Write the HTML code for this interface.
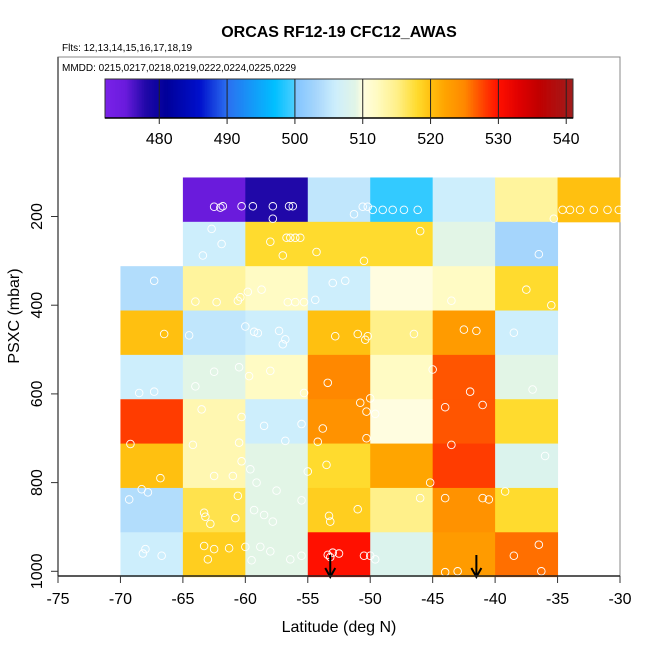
<!DOCTYPE html>
<html><head><meta charset="utf-8"><style>
body{margin:0;background:#fff;}
svg{display:block;font-family:"Liberation Sans",sans-serif;}
</style></head><body>
<svg id="c" width="650" height="650" viewBox="0 0 650 650">
<text x="339" y="37" text-anchor="middle" font-size="16" font-weight="bold">ORCAS RF12-19 CFC12_AWAS</text>
<text x="62" y="51" font-size="10">Flts: 12,13,14,15,16,17,18,19</text>
<rect x="58" y="57" width="562" height="519" fill="none" stroke="#888" stroke-width="1"/>
<text x="62" y="71" font-size="10">MMDD: 0215,0217,0218,0219,0222,0224,0225,0229</text>
<g id="cells"></g><g id="pts"></g><g id="cbar"></g><g id="axes"></g>
<text x="339" y="632" text-anchor="middle" font-size="16">Latitude (deg N)</text>
<text transform="translate(19,316) rotate(-90)" text-anchor="middle" font-size="16">PSXC (mbar)</text>
</svg>
<script>
const latEdges=[-70,-65,-60,-55,-50,-45,-40,-35,-30];
const presTops=[112,212,312,412,512,612,712,812,912];
const binDepth=100;
const cellValues=[
[null,475,478,505,499,506,514,520],
[null,506,518,518,518,509,503,null],
[504,514,512,506,510,512,518,null],
[520,505,506,520,515,523,506,null],
[506,509,512,525,512,527,509,null],
[528,513,506,524,510,527,518,null],
[520,513,509,518,522,528,508,null],
[504,517,509,519,515,524,518,null],
[506,519,509,530,508,523,526,null]];
const ptLat=[-62.5,-62,-61.8,-60.3,-59.4,-57.8,-56.5,-56.2,-57.8,-51.3,-50.6,-50.2,-49.8,-49,-48.2,-47.3,-46.2,-34.6,-34,-33.2,-32.1,-31,-30.1,-35.3,
-62.7,-61.9,-63.4,-58,-56.7,-56.4,-56,-55.6,-57,-50.5,-46,-36.5,-54.3,
-67.3,-64,-62.3,-60.4,-60.6,-59.8,-58.7,-56.6,-56,-55.3,-54.4,-53,-52,-35.5,-43.5,-37.5,
-66.5,-64.5,-60,-59.3,-59,-57.3,-56.8,-57,-52.8,-51,-50.2,-50.4,-46.5,-42.5,-41.5,-38.5,
-68.5,-67.3,-64,-62.5,-60.5,-59.7,-55.3,-58,-53.4,-50,-45,-42,-37,
-63.5,-60.3,-58.5,-55.5,-53.8,-50.8,-50.3,-49.6,-44,-41,
-69.2,-64.2,-60.5,-56.8,-54.2,-50.3,-43.5,-36,
-68.3,-67.8,-66.8,-62.5,-61,-60.3,-60.6,-59.6,-59.1,-57.5,-55,-53.5,-45.2,-41,-39.2,
-69.3,-63.3,-63.2,-62.8,-60.8,-59.3,-58.5,-57.8,-55.5,-53.2,-53.3,-51,-46,-44,-40.5,
-68,-68.2,-66.7,-63.3,-63,-62.5,-61.3,-60,-59.5,-58.8,-58,-56.4,-55.5,-53.4,-53.2,-53,-52.5,-50.5,-50,-49.6,-44,-43,-36.3,-36.5,-38.5];
const ptPres=[178,180,177,177,177,177,177,177,205,195,178,178,185,185,185,185,185,185,185,185,185,185,185,205,
228,262,288,257,248,248,248,248,288,300,233,285,280,
345,392,393,382,390,370,365,393,393,393,388,350,345,400,390,365,
465,468,448,460,463,458,477,488,470,465,470,478,465,455,458,462,
598,595,583,550,540,560,598,548,575,610,545,595,590,
635,652,672,668,678,620,640,645,630,625,
713,715,710,706,708,700,715,740,
815,822,790,785,785,752,830,770,800,818,775,760,800,835,820,
838,868,877,893,880,862,873,888,840,888,875,860,835,835,838,
950,960,965,943,973,950,948,945,975,945,955,973,965,963,968,958,960,965,965,973,1002,1000,1000,940,965];
const cbTicks=[480,490,500,510,520,530,540];
const xTicks=[-75,-70,-65,-60,-55,-50,-45,-40,-35,-30];
const yTicks=[200,400,600,800,1000];
const cbMin=472,cbMax=541;
const stops=[[472,'#7a22e8'],[475,'#6a1bdc'],[478,'#2008a8'],[481,'#000099'],[486,'#0010cc'],[490,'#2b6ff0'],[497,'#00bfff'],[500,'#4ccfff'],[500.01,'#80c4ff'],[503,'#a5d5fc'],[506,'#cdeefc'],[509,'#e2f5e6'],[510,'#fffde0'],[512,'#fffbc4'],[515,'#fff08a'],[518,'#ffdb2e'],[520,'#ffc010'],[522,'#ffa500'],[525,'#ff8800'],[528,'#ff3c00'],[530,'#ff1000'],[533,'#e00000'],[536,'#c00000'],[541,'#a01c1c']];
function hex(c){return [1,3,5].map(i=>parseInt(c.substr(i,2),16));}
function cmap(v){
  if(v<=stops[0][0])return stops[0][1];
  for(let i=1;i<stops.length;i++){if(v<=stops[i][0]){const a=stops[i-1],b=stops[i];const t=(v-a[0])/(b[0]-a[0]);const A=hex(a[1]),B=hex(b[1]);return 'rgb('+A.map((x,k)=>Math.round(x+(B[k]-x)*t)).join(',')+')';}}
  return stops[stops.length-1][1];}
const X=lat=>58+(lat+75)*562/45;
const Y=p=>216.5+(p-200)*0.4435;
const CB=v=>105+(v-cbMin)*(573-105)/(cbMax-cbMin);
const NS='http://www.w3.org/2000/svg';
function mk(t,a,parent){const e=document.createElementNS(NS,t);for(const k in a)e.setAttribute(k,a[k]);parent.appendChild(e);return e;}
const gC=document.getElementById('cells');
cellValues.forEach((row,r)=>row.forEach((v,c)=>{if(v==null)return;
  const e=mk('rect',{x:X(latEdges[c]),y:Y(presTops[r]),width:X(latEdges[c+1])-X(latEdges[c])+0.5,height:Y(presTops[r]+binDepth)-Y(presTops[r])+0.5,fill:cmap(v)},gC);
  
  }));
const gP=document.getElementById('pts');
ptLat.forEach((la,i)=>{const e=mk('circle',{cx:X(la),cy:Y(ptPres[i]),r:3.8,fill:'none',stroke:'#fff','stroke-width':0.9},gP);
  
  });
const arrowsLat=[-53.2,-41.5];
arrowsLat.forEach(la=>{const x=X(la);const g=mk('g',{},gP);
  
  
  mk('line',{x1:x,y1:555,x2:x,y2:576,stroke:'#000','stroke-width':2},g);
  mk('path',{d:`M${x-5} ${568}L${x} ${577}L${x+5} ${568}`,fill:'none',stroke:'#000','stroke-width':2},g);});
const gB=document.getElementById('cbar');
for(let v=cbMin;v<cbMax;v+=0.25){mk('rect',{x:CB(v),y:79,width:CB(v+0.25)-CB(v)+0.4,height:39,fill:cmap(v+0.125)},gB);}
const fr=mk('rect',{x:105,y:79,width:468,height:39,fill:'none',stroke:'#333','stroke-width':1},gB);


mk('line',{x1:105,y1:118,x2:573,y2:118,stroke:'#000','stroke-width':1.5},gB);
cbTicks.forEach(v=>{mk('line',{x1:CB(v),y1:79,x2:CB(v),y2:124,stroke:'#222','stroke-width':1},gB);
  const t=mk('text',{x:CB(v),y:144,'text-anchor':'middle','font-size':16},gB);t.textContent=v;
  
  });
const gA=document.getElementById('axes');
mk('line',{x1:58,y1:57,x2:58,y2:576,stroke:'#555','stroke-width':1.5},gA);
mk('line',{x1:58,y1:576,x2:620,y2:576,stroke:'#222','stroke-width':1.5},gA);
xTicks.forEach(v=>{mk('line',{x1:X(v),y1:576,x2:X(v),y2:583,stroke:'#333'},gA);
  const t=mk('text',{x:X(v),y:604,'text-anchor':'middle','font-size':16},gA);t.textContent=v;
  
  });
yTicks.forEach(v=>{mk('line',{x1:51,y1:Y(v),x2:58,y2:Y(v),stroke:'#333'},gA);
  const t=mk('text',{transform:`translate(42,${Y(v)}) rotate(-90)`,'text-anchor':'middle','font-size':16},gA);t.textContent=v;
  
  });
</script>
</body></html>
